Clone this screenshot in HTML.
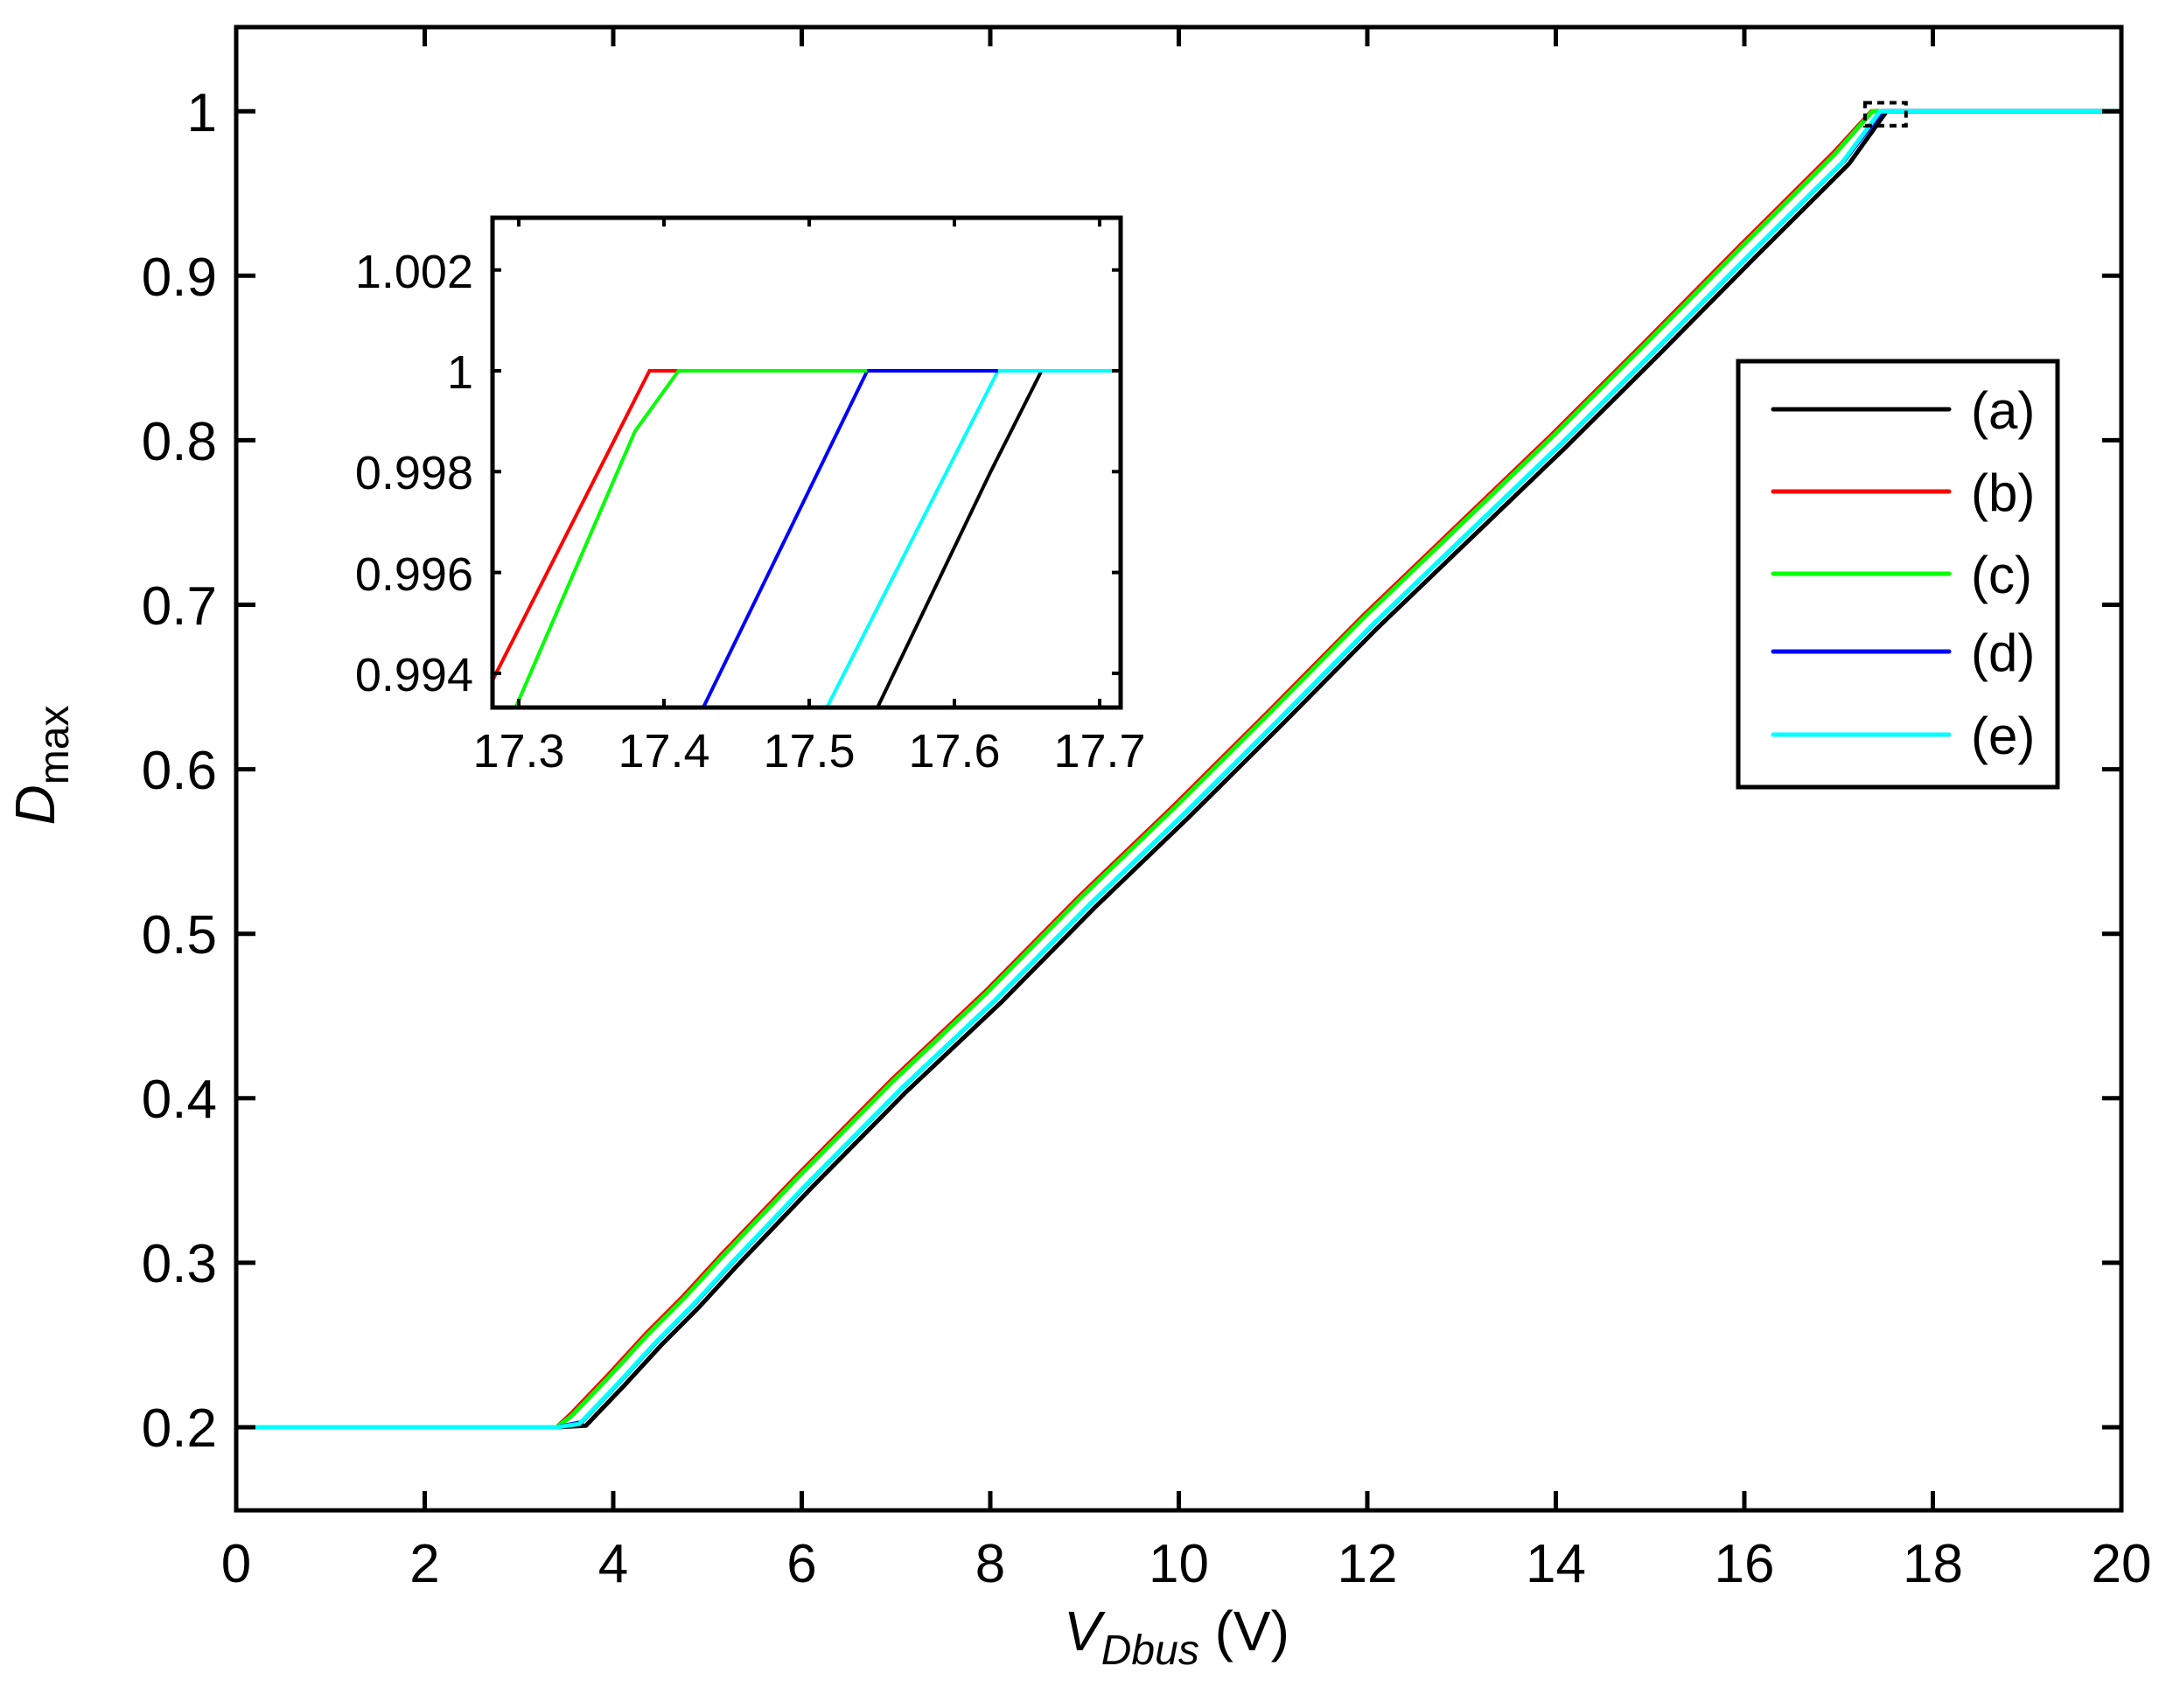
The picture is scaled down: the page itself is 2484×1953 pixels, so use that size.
<!DOCTYPE html>
<html><head><meta charset="utf-8"><style>
html,body{margin:0;padding:0;background:#fff}
svg{display:block}
text{font-family:"Liberation Sans",Arial,sans-serif;fill:#000}
</style></head><body>
<svg id="s" width="2484" height="1953" viewBox="0 0 2484 1953" xmlns="http://www.w3.org/2000/svg">
<rect width="2484" height="1953" fill="#fff"/>
<g id="main"></g>
<g id="ins"></g>
<g font-size="62">
<text x="248" y="1654" text-anchor="end">0.2</text>
<text x="248" y="1466" text-anchor="end">0.3</text>
<text x="248" y="1278" text-anchor="end">0.4</text>
<text x="248" y="1090" text-anchor="end">0.5</text>
<text x="248" y="902" text-anchor="end">0.6</text>
<text x="248" y="714" text-anchor="end">0.7</text>
<text x="248" y="526" text-anchor="end">0.8</text>
<text x="248" y="338" text-anchor="end">0.9</text>
<text x="248" y="150" text-anchor="end">1</text>
</g>
<g font-size="62" text-anchor="middle" id="xl"></g>
<g font-size="54">
<text x="541" y="329" text-anchor="end">1.002</text>
<text x="541" y="444" text-anchor="end">1</text>
<text x="541" y="559" text-anchor="end">0.998</text>
<text x="541" y="675" text-anchor="end">0.996</text>
<text x="541" y="790" text-anchor="end">0.994</text>
<text x="593" y="877" text-anchor="middle">17.3</text>
<text x="759" y="877" text-anchor="middle">17.4</text>
<text x="925" y="877" text-anchor="middle">17.5</text>
<text x="1091" y="877" text-anchor="middle">17.6</text>
<text x="1257" y="877" text-anchor="middle">17.7</text>
</g>
<text x="1345" y="1887" font-size="64" text-anchor="middle"><tspan font-style="italic">V</tspan><tspan font-style="italic" font-size="48" dy="16">Dbus</tspan><tspan dy="-16"> (V)</tspan></text>
<text transform="translate(62,875) rotate(-90)" font-size="64" text-anchor="middle"><tspan font-style="italic">D</tspan><tspan font-size="48" dy="16">max</tspan></text>
<rect x="1987" y="413" width="365" height="487" fill="#fff" stroke="#000" stroke-width="5"/>
<g stroke-width="5" stroke-linecap="round">
<line x1="2027" y1="468" x2="2228" y2="468" stroke="#000"/>
<line x1="2027" y1="562" x2="2228" y2="562" stroke="#f00"/>
<line x1="2027" y1="656" x2="2228" y2="656" stroke="#0f0"/>
<line x1="2027" y1="745" x2="2228" y2="745" stroke="#00f"/>
<line x1="2027" y1="840" x2="2228" y2="840" stroke="#0ff"/>
</g>
<g font-size="60">
<text x="2253" y="490">(a)</text>
<text x="2253" y="584">(b)</text>
<text x="2253" y="678">(c)</text>
<text x="2253" y="767">(d)</text>
<text x="2253" y="862">(e)</text>
</g>
</svg>
<script>
var NS="http://www.w3.org/2000/svg";
function el(p,t,a){var e=document.createElementNS(NS,t);for(var k in a)e.setAttribute(k,a[k]);p.appendChild(e);return e;}
// main axes
var L=270,R=2425,T=31,B=1727;
function mx(x){return L+(R-L)*x/20;}
function my(y){return 1632-(y-0.2)*1881;}
var g=document.getElementById('main');
var base=[[0,0.2],[3.4,0.2],[3.6,0.205],[4,0.229],[4.4,0.254],[4.8,0.277],[5.2,0.302],[6,0.35],[7,0.408],[8,0.462],[9,0.52],[10,0.575],[11,0.632],[12,0.69],[13,0.745],[14,0.8],[15,0.857],[16,0.915],[17,0.972],[17.4,1],[20,1]];
var ser=[["#000",0.11,-0.004],["#f00",-0.05,0.003],["#0f0",-0.04,0.002],["#00f",0.06,-0.002],["#0ff",0.04,-0.003]];
ser.forEach(function(s){
 var pts=base.map(function(p,i){var x=p[0],y=p[1];
  if(i>1&&i<base.length-2){x+=s[1];y+=s[2];}
  if(i==base.length-2){x+=s[1];}
  return mx(x).toFixed(1)+","+my(Math.min(1,Math.max(0.2,y))).toFixed(1);});
 el(g,'polyline',{points:pts.join(' '),fill:'none',stroke:s[0],'stroke-width':5,'stroke-linejoin':'round'});
});
// dashed box
el(g,'rect',{x:mx(17.28),y:my(1.003)-4,width:mx(17.715)-mx(17.28),height:my(0.9933)-my(1.003)+8,fill:'none',stroke:'#000','stroke-width':4,'stroke-dasharray':'8,6'});
// frame + ticks
el(g,'rect',{x:L,y:T,width:R-L,height:B-T,fill:'none',stroke:'#000','stroke-width':5});
var xl=document.getElementById('xl');
for(var i=0;i<=20;i+=2){var x=mx(i);
 if(i>0&&i<20){el(g,'line',{x1:x,y1:B,x2:x,y2:B-22,stroke:'#000','stroke-width':5});el(g,'line',{x1:x,y1:T,x2:x,y2:T+22,stroke:'#000','stroke-width':5});}
 var t=el(xl,'text',{x:x,y:1809});t.textContent=i;}
for(var v=2;v<=10;v++){var y=my(v/10);
 el(g,'line',{x1:L,y1:y,x2:L+22,y2:y,stroke:'#000','stroke-width':5});el(g,'line',{x1:R,y1:y,x2:R-22,y2:y,stroke:'#000','stroke-width':5});}
// inset
var iL=563,iR=1281,iT=249,iB=809;
function ix(x){return 593+(x-17.3)*1660;}
function iy(y){return 424-(y-1)*57650;}
var h=document.getElementById('ins');
el(h,'rect',{x:iL,y:iT,width:iR-iL,height:iB-iT,fill:'#fff',stroke:'none'});
var cp=el(h,'clipPath',{id:'c'});el(cp,'rect',{x:iL,y:iT,width:iR-iL,height:iB-iT});
var lg=el(h,'g',{'clip-path':'url(#c)'});
var il=[["#000",[[17.545,0.9932],[17.625,0.998],[17.66,1],[17.72,1]]],
["#0ff",[[17.51,0.9932],[17.63,1],[17.72,1]]],
["#00f",[[17.425,0.9932],[17.54,1],[17.63,1]]],
["#f00",[[17.28,0.99375],[17.39,1],[17.41,1]]],
["#0f0",[[17.296,0.9932],[17.38,0.9988],[17.41,1],[17.54,1]]]];
il.forEach(function(s){el(lg,'polyline',{points:s[1].map(function(p){return ix(p[0]).toFixed(1)+","+iy(p[1]).toFixed(1);}).join(' '),fill:'none',stroke:s[0],'stroke-width':4});});
el(h,'rect',{x:iL,y:iT,width:iR-iL,height:iB-iT,fill:'none',stroke:'#000','stroke-width':5});
[17.3,17.4,17.5,17.6,17.7].forEach(function(v){var x=ix(v);
 el(h,'line',{x1:x,y1:iB,x2:x,y2:iB-10,stroke:'#000','stroke-width':4});el(h,'line',{x1:x,y1:iT,x2:x,y2:iT+10,stroke:'#000','stroke-width':4});});
[1.002,1,0.998,0.996,0.994].forEach(function(v){var y=iy(v);
 el(h,'line',{x1:iL,y1:y,x2:iL+10,y2:y,stroke:'#000','stroke-width':4});el(h,'line',{x1:iR,y1:y,x2:iR-10,y2:y,stroke:'#000','stroke-width':4});});
</script>
</body></html>
